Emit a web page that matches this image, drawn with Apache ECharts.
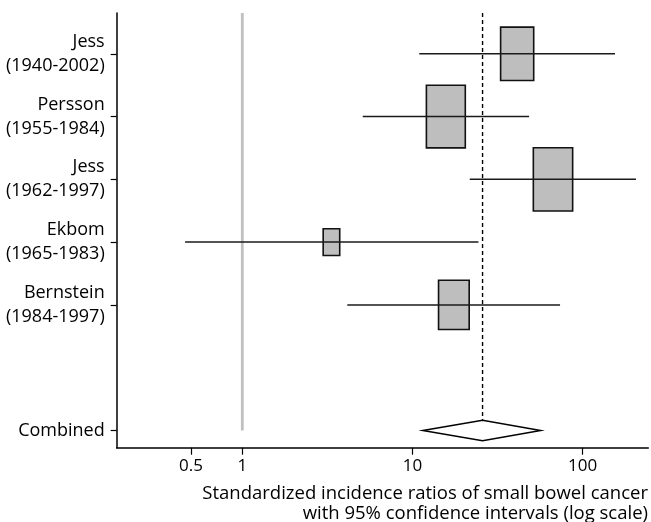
<!DOCTYPE html>
<html><head><meta charset="utf-8">
<script src="https://cdn.jsdelivr.net/npm/echarts@6/dist/echarts.min.js"></script>
<style>html,body{margin:0;padding:0;background:#fff}#c{width:651px;height:522px}</style>
</head><body><div id="c"></div>
<script>
// ---- data ----
const studies = ['Jess\n(1940-2002)', 'Persson\n(1955-1984)', 'Jess\n(1962-1997)', 'Ekbom\n(1965-1983)', 'Bernstein\n(1984-1997)'];
const sir = [41.2, 15.7, 66.9, 3.34, 17.5];
const ciLow = [10.96, 5.10, 21.7, 0.461, 4.14];
const ciHigh = [154.8, 48.4, 205.6, 24.4, 73.6];
const weights = [20.4, 28.2, 28.8, 5.1, 17.5];
const combinedLabel = 'Combined';
const combinedSir = 25.8;
const combinedLow = 11.5;
const combinedHigh = 56.6;
const nullValue = 1;
const xTicks = [0.5, 1, 10, 100];
const axisTitleLines = ['Standardized incidence ratios of small bowel cancer', 'with 95% confidence intervals (log scale)'];

// ---- layout / style constants ----
const FONT = 'Open Sans';
const rows = studies.concat(['', combinedLabel]);
const combinedRow = rows.length - 1;
const rowTicks = rows.map((r, i) => i).filter(i => rows[i] !== '');
const Y_MIN = -0.65, Y_MAX = 6.275;
const BOX_MAX_H = 63.3, BOX_ASPECT = 1.61, DIAMOND_HALF = 10.3;
const maxW = Math.max.apply(null, weights);

const studyData = studies.map((s, i) => [sir[i], i, ciLow[i], ciHigh[i], weights[i]]);

const chart = echarts.init(document.getElementById('c'), null, {renderer: 'canvas'});
chart.setOption({
  animation: false,
  backgroundColor: '#fff',
  textStyle: {fontFamily: FONT, color: '#000'},
  graphic: axisTitleLines.map((t, i) => ({
    type: 'text', right: 3, top: 484 + i * 20,
    style: {text: t, fontFamily: FONT, fontSize: 18.5, fill: '#000'}
  })),
  grid: {left: 116.7, right: 2.7, top: 13, bottom: 74.3, containLabel: false},
  xAxis: {
    type: 'log', logBase: 10, min: 0.1828, max: 242.9,
    axisLine: {onZero: false, lineStyle: {color: '#000', width: 1.5}},
    axisTick: {show: true, length: 7, lineStyle: {color: '#000', width: 1.2}, customValues: xTicks},
    axisLabel: {customValues: xTicks, margin: 10, fontSize: 17, color: '#000', fontFamily: FONT,
      formatter: v => String(+(+v).toPrecision(6))},
    splitLine: {show: false},
    minorTick: {show: false}
  },
  yAxis: {
    type: 'value', inverse: true, min: Y_MIN, max: Y_MAX,
    axisLine: {show: true, onZero: false, lineStyle: {color: '#000', width: 1.5}},
    axisTick: {show: true, length: 6, lineStyle: {color: '#000', width: 1.2}, customValues: rowTicks},
    axisLabel: {customValues: rowTicks, margin: 12, fontSize: 18, lineHeight: 24, padding: [7, 0, 0, 0], color: '#000', fontFamily: FONT, align: 'right',
      formatter: v => rows[Math.round(v)] || ''},
    splitLine: {show: false}
  },
  series: [
    {
      type: 'custom', name: 'refs', silent: true, clip: false,
      data: [[nullValue, 0]],
      renderItem: function (params, api) {
        const top1 = api.coord([nullValue, Y_MIN]);
        const bot1 = api.coord([nullValue, combinedRow]);
        const top2 = api.coord([combinedSir, Y_MIN]);
        const bot2 = api.coord([combinedSir, combinedRow]);
        return {type: 'group', children: [
          {type: 'line', shape: {x1: top1[0], y1: top1[1], x2: bot1[0], y2: bot1[1]}, style: {stroke: '#c0c0c0', lineWidth: 2.8}},
          {type: 'line', shape: {x1: top2[0], y1: top2[1], x2: bot2[0], y2: bot2[1] - DIAMOND_HALF}, style: {stroke: '#000', lineWidth: 1.4, lineDash: [4, 3]}}
        ]};
      }
    },
    {
      type: 'custom', name: 'studies', silent: true,
      data: studyData,
      encode: {x: 0, y: 1},
      renderItem: function (params, api) {
        const row = api.value(1);
        const p = api.coord([api.value(0), row]);
        const l = api.coord([api.value(2), row]);
        const h = api.coord([api.value(3), row]);
        const bh = BOX_MAX_H * Math.sqrt(api.value(4) / maxW);
        const bw = bh / BOX_ASPECT;
        return {type: 'group', children: [
          {type: 'rect', shape: {x: p[0] - bw / 2, y: p[1] - bh / 2, width: bw, height: bh}, style: {fill: '#bebebe', stroke: '#111', lineWidth: 1.6}},
          {type: 'line', shape: {x1: l[0], y1: l[1], x2: h[0], y2: h[1]}, style: {stroke: '#1a1a1a', lineWidth: 1.5}}
        ]};
      }
    },
    {
      type: 'custom', name: 'combined', silent: true,
      data: [[combinedSir, combinedRow, combinedLow, combinedHigh]],
      encode: {x: 0, y: 1},
      renderItem: function (params, api) {
        const row = api.value(1);
        const p = api.coord([api.value(0), row]);
        const l = api.coord([api.value(2), row]);
        const h = api.coord([api.value(3), row]);
        return {type: 'polygon', shape: {points: [[l[0], l[1]], [p[0], p[1] - DIAMOND_HALF], [h[0], h[1]], [p[0], p[1] + DIAMOND_HALF]]},
          style: {fill: '#fff', stroke: '#000', lineWidth: 1.5}};
      }
    }
  ]
});
</script>
</body></html>
